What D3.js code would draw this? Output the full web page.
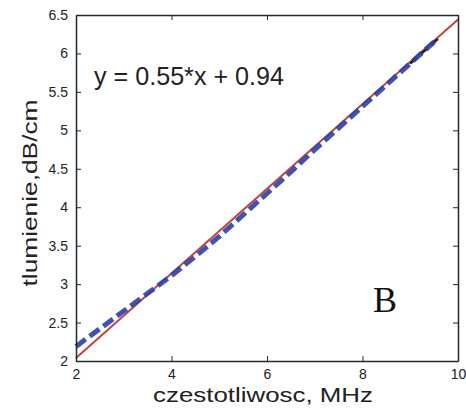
<!DOCTYPE html>
<html>
<head>
<meta charset="utf-8">
<script src="https://cdn.jsdelivr.net/npm/d3@7"></script>
<style>
  body { margin: 0; background: #fff; }
  text { font-family: Arial, "Liberation Sans", sans-serif; fill: #222; }
</style>
</head>
<body>
<div id="chart"></div>
<script>
// data
var xTicks = [2, 4, 6, 8, 10];
var yTicks = [2, 2.5, 3, 3.5, 4, 4.5, 5, 5.5, 6, 6.5];

// measured attenuation (blue dashed)
var freqMeasured = [2, 2.5, 3, 3.5, 4, 4.5, 5, 5.5, 6, 6.5, 7, 7.5, 8, 8.5, 9, 9.5];
var attMeasured  = [2.19, 2.42, 2.65, 2.88, 3.11, 3.36, 3.62, 3.9, 4.18, 4.46, 4.75, 5.03, 5.31, 5.59, 5.87, 6.15];

// black dashed tail near the top end
var freqTail = [9.0, 9.6];
var attTail  = [5.87, 6.2];

// linear fit y = 0.55*x + 0.94 (red)
var fitSlope = 0.55;
var fitIntercept = 0.94;
var freqFit = [2, 10];

var svgWidth = 466;
var svgHeight = 409;

var margin = { top: 15, right: 8, bottom: 48, left: 76 };
var width = svgWidth - margin.left - margin.right;
var height = svgHeight - margin.top - margin.bottom;

var svg = d3.select("#chart").append("svg")
  .attr("width", svgWidth)
  .attr("height", svgHeight);

var chartGroup = svg.append("g")
  .attr("transform", `translate(${margin.left}, ${margin.top})`);

var xScale = d3.scaleLinear().domain([2, 10]).range([0, width]);
var yScale = d3.scaleLinear().domain([2, 6.5]).range([height, 0]);

var line = d3.line()
  .x(d => xScale(d[0]))
  .y(d => yScale(d[1]));

// fit line
var fitData = freqFit.map(f => [f, fitSlope * f + fitIntercept]);
chartGroup.append("path")
  .datum(fitData)
  .attr("d", line)
  .attr("fill", "none")
  .attr("stroke", "#c0453e")
  .attr("stroke-width", 2);

// black dashed tail
chartGroup.append("path")
  .datum(freqTail.map((f, i) => [f, attTail[i]]))
  .attr("d", line)
  .attr("fill", "none")
  .attr("stroke", "#222")
  .attr("stroke-width", 2.5)
  .attr("stroke-dasharray", "9,5");

// measured curve
chartGroup.append("path")
  .datum(freqMeasured.map((f, i) => [f, attMeasured[i]]))
  .attr("d", line)
  .attr("fill", "none")
  .attr("stroke", "#2c40a6")
  .attr("stroke-width", 5)
  .attr("stroke-dasharray", "12,5")
  .attr("opacity", 0.9);

// axes, MATLAB style ticks pointing inwards on all four sides
var tickLen = 5;
var bottomAxis = d3.axisBottom(xScale).tickValues(xTicks).tickSizeInner(-tickLen).tickSizeOuter(0).tickPadding(8).tickFormat(d3.format("d"));
var topAxis = d3.axisTop(xScale).tickValues(xTicks).tickSizeInner(-tickLen).tickSizeOuter(0).tickFormat("");
var leftAxis = d3.axisLeft(yScale).tickValues(yTicks).tickSizeInner(-tickLen).tickSizeOuter(0).tickPadding(8).tickFormat(d3.format("~g"));
var rightAxis = d3.axisRight(yScale).tickValues(yTicks).tickSizeInner(-tickLen).tickSizeOuter(0).tickFormat("");

var xAxis = chartGroup.append("g").attr("transform", `translate(0, ${height})`).call(bottomAxis);
chartGroup.append("g").call(topAxis);
var yAxis = chartGroup.append("g").call(leftAxis);
chartGroup.append("g").attr("transform", `translate(${width}, 0)`).call(rightAxis);

chartGroup.selectAll(".domain").attr("stroke", "#1e2a30").attr("stroke-width", 1.5);
chartGroup.selectAll(".tick line").attr("stroke", "#1e2a30");
chartGroup.selectAll(".tick text")
  .attr("font-size", 14)
  .attr("font-family", "Arial, 'Liberation Sans', sans-serif")
  .attr("fill", "#222");

// equation
chartGroup.append("text")
  .attr("x", 18)
  .attr("y", 70)
  .attr("font-size", 25)
  .attr("textLength", 190)
  .attr("lengthAdjust", "spacingAndGlyphs")
  .text("y = 0.55*x + 0.94");

// panel letter
chartGroup.append("text")
  .attr("x", 297)
  .attr("y", 297)
  .attr("font-size", 36)
  .style("font-family", "'Liberation Serif', 'DejaVu Serif', serif")
  .style("fill", "#111")
  .text("B");

// axis labels
svg.append("text")
  .attr("x", 263)
  .attr("y", 402)
  .attr("text-anchor", "middle")
  .attr("font-size", 20)
  .attr("textLength", 220)
  .attr("lengthAdjust", "spacingAndGlyphs")
  .text("czestotliwosc, MHz");

svg.append("text")
  .attr("transform", "translate(37, 193) rotate(-90)")
  .attr("text-anchor", "middle")
  .attr("font-size", 21)
  .attr("textLength", 187)
  .attr("lengthAdjust", "spacingAndGlyphs")
  .text("tlumienie,dB/cm");
</script>
</body>
</html>
